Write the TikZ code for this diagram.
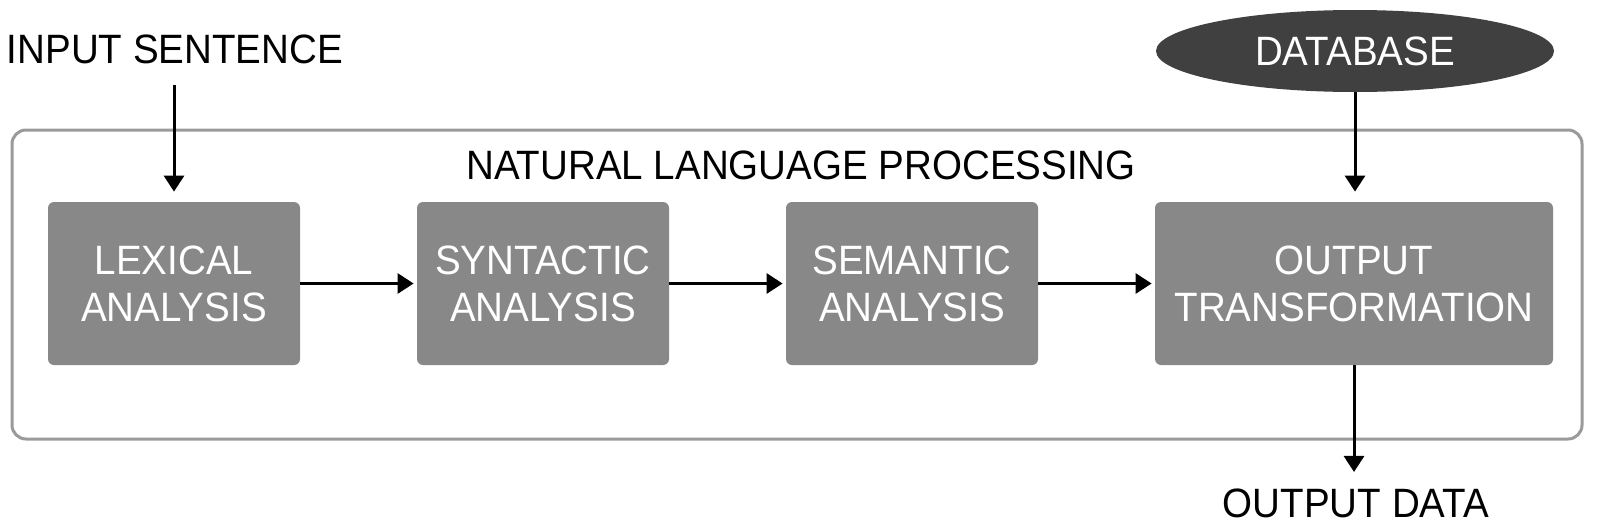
\documentclass[tikz,border=0pt]{standalone}
\usepackage{fontspec}
\setmainfont{Liberation Sans}[FakeStretch=0.94]
\usetikzlibrary{arrows.meta,shapes.geometric}
\definecolor{boxgray}{HTML}{888888}
\definecolor{dbgray}{HTML}{404040}
\definecolor{framegray}{HTML}{9A9A9A}
\begin{document}
\begin{tikzpicture}[x=0.5pt,y=-0.5pt,
  txt/.style={font=\fontsize{20.5}{23.5}\selectfont, inner sep=0pt, align=center},
  proc/.style={txt, fill=boxgray, text=white, rounded corners=3pt, minimum height=81.5pt},
  arr/.style={line width=1.5pt, -{Triangle[length=8pt,width=10pt]}},
  frame/.style={draw=framegray, line width=1.5pt, rounded corners=7pt}
]
\useasboundingbox (0,0) rectangle (1600,525);
\draw[frame] (12,130) rectangle (1582,439);
\node[txt] (title) at (801,165) {NATURAL LANGUAGE PROCESSING};
\node[txt, anchor=base] (input) at (175,63) {INPUT SENTENCE};
\node[txt, ellipse, fill=dbgray, text=white, minimum width=199pt, minimum height=41pt] (db) at (1355,51) {DATABASE};
\node[proc, minimum width=126pt] (lex) at (174,283.5) {LEXICAL\\ANALYSIS};
\node[proc, minimum width=126pt] (syn) at (543,283.5) {SYNTACTIC\\ANALYSIS};
\node[proc, minimum width=126pt] (sem) at (912,283.5) {SEMANTIC\\ANALYSIS};
\node[proc, minimum width=199pt] (out) at (1354,283.5) {OUTPUT\\TRANSFORMATION};
\node[txt, anchor=base] (odata) at (1356,517) {OUTPUT DATA};
\draw[arr, shorten <=10.5pt, shorten >=5pt] (input.south -| lex.north) -- (lex.north);
\draw[arr, shorten >=5pt] (db.south) -- (db.south |- out.north);
\draw[arr, shorten >=1.5pt] (lex.east) -- (syn.west);
\draw[arr, shorten >=1.5pt] (syn.east) -- (sem.west);
\draw[arr, shorten >=1.5pt] (sem.east) -- (out.west);
\draw[arr, shorten >=8pt] (out.south) -- (out.south |- odata.north);
\end{tikzpicture}
\end{document}
